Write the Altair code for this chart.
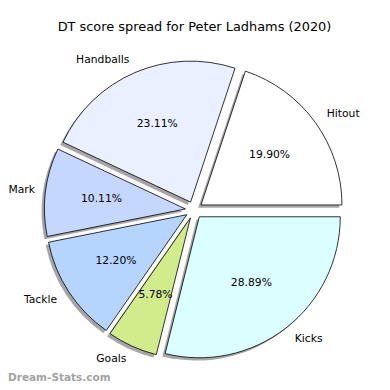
import altair as alt
import pandas as pd

labels = ["Hitout", "Handballs", "Mark", "Tackle", "Goals", "Kicks"]
shares = [19.90, 23.11, 10.11, 12.20, 5.78, 28.89]
colors = ["#ffffff", "#eaf0ff", "#c5d7ff", "#b5d5ff", "#d2eb8b", "#dbffff"]
title_text = ["DT score spread for Peter Ladhams (2020)"]
watermark = ["Dream-Stats.com"]

CX, CY, R, EXPLODE = 186, 202, 141, 8.6
SHADOW = 2.8
FONT = "DejaVu Sans"
LABEL_SIZE = 10.75
MIN_RIGHT_EDGE = 27  # keep left-side labels inside the canvas

df = pd.DataFrame({"label": labels, "share": shares,
                   "order": list(range(len(labels))), "color": colors})

base = alt.Chart(df).transform_window(
    cum="sum(share)", sort=[alt.SortField("order", order="ascending")], frame=[None, 0]
).transform_joinaggregate(total="sum(share)").transform_calculate(
    a0="2*PI*(datum.cum - datum.share)/datum.total",
    a1="2*PI*datum.cum/datum.total",
).transform_calculate(
    mid="(datum.a0 + datum.a1)/2",
    t0="PI/2 - datum.a0",
    t1="PI/2 - datum.a1",
).transform_calculate(
    cx=f"{CX} + {EXPLODE}*cos(datum.mid)",
    cy=f"{CY} - {EXPLODE}*sin(datum.mid)",
).transform_calculate(
    sx=f"datum.cx - {SHADOW}",
    sy=f"datum.cy + {SHADOW}",
    lx=f"datum.cx + {1.1 * R}*cos(datum.mid)",
    ly=f"datum.cy - {1.1 * R}*sin(datum.mid)",
    px=f"datum.cx + {0.6 * R}*cos(datum.mid)",
    py=f"datum.cy - {0.6 * R}*sin(datum.mid)",
    pct="format(datum.share/datum.total*100, '.2f') + '%'",
).transform_calculate(
    lxl=f"max(datum.lx, {MIN_RIGHT_EDGE})",
)

theta = alt.Theta("t0:Q", scale=None, stack=False)
theta2 = alt.Theta2("t1:Q")

shadow = base.mark_arc(radius=R, fill="#4d4d4d", opacity=0.5).encode(
    x=alt.X("sx:Q", scale=None, axis=None),
    y=alt.Y("sy:Q", scale=None, axis=None),
    theta=theta, theta2=theta2,
)

wedges = base.mark_arc(radius=R, stroke="#000000", strokeWidth=0.8).encode(
    x=alt.X("cx:Q", scale=None, axis=None),
    y=alt.Y("cy:Q", scale=None, axis=None),
    theta=theta, theta2=theta2,
    fill=alt.Fill("color:N", scale=None, legend=None),
)

lab_right = base.transform_filter("cos(datum.mid) >= 0").mark_text(
    align="left", baseline="middle", font=FONT, fontSize=LABEL_SIZE, color="#000000"
).encode(
    x=alt.X("lx:Q", scale=None, axis=None),
    y=alt.Y("ly:Q", scale=None, axis=None),
    text="label:N",
)

lab_left = base.transform_filter("cos(datum.mid) < 0").mark_text(
    align="right", baseline="middle", font=FONT, fontSize=LABEL_SIZE, color="#000000"
).encode(
    x=alt.X("lxl:Q", scale=None, axis=None),
    y=alt.Y("ly:Q", scale=None, axis=None),
    text="label:N",
)

pcts = base.mark_text(
    align="center", baseline="middle", font=FONT, fontSize=LABEL_SIZE, color="#000000"
).encode(
    x=alt.X("px:Q", scale=None, axis=None),
    y=alt.Y("py:Q", scale=None, axis=None),
    text="pct:N",
)

title = alt.Chart(pd.DataFrame({"t": title_text})).mark_text(
    align="center", baseline="alphabetic", font=FONT, fontSize=12.9, color="#000000"
).encode(x=alt.value(186.5), y=alt.value(22.5), text="t:N")

wm = alt.Chart(pd.DataFrame({"t": watermark})).mark_text(
    align="left", baseline="middle", font=FONT, fontSize=10.5, fontWeight="bold",
    color="#a3a3a3"
).encode(x=alt.value(0), y=alt.value(370), text="t:N")

chart = alt.layer(shadow, wedges, lab_right, lab_left, pcts, title, wm).properties(
    width=374, height=374, padding=0,
    autosize=alt.AutoSizeParams(type="none"),
).configure_view(stroke=None)

chart.save("out.html", embed_options={"renderer": "svg", "actions": False})
